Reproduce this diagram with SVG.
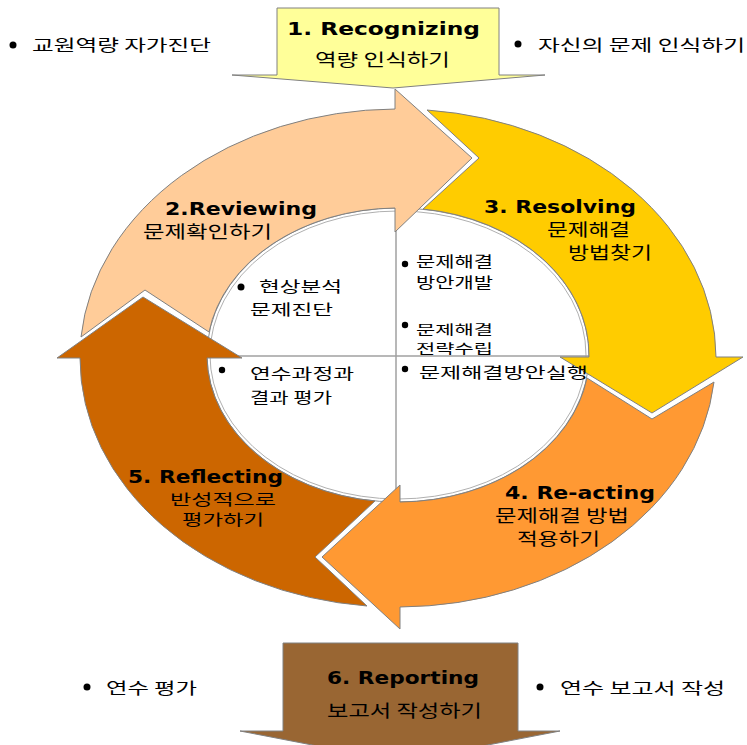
<svg xmlns="http://www.w3.org/2000/svg" width="747" height="745" viewBox="0 0 747 745">
<defs>
<style>
.arrow{stroke:#808080;stroke-width:1;stroke-linejoin:miter}
.en{font-family:"DejaVu Sans",Verdana,sans-serif;font-weight:bold;font-size:17px;fill:#000}
.ko{font-family:"Noto Sans CJK KR","Noto Sans",sans-serif;font-size:17px;fill:#000}
.ks{font-family:"Noto Sans CJK KR","Noto Sans",sans-serif;font-size:15px;fill:#000}
.ki{font-family:"Noto Sans CJK KR","Noto Sans",sans-serif;font-size:15px;fill:#000}
.kt{font-family:"Noto Sans CJK KR","Noto Sans",sans-serif;font-size:13px;fill:#000}
.kc{font-family:"Noto Sans CJK KR","Noto Sans",sans-serif;font-size:16px;fill:#000}
.grid{stroke:#a0a0a0;stroke-width:1.5;fill:none}
</style>
</defs>
<rect width="747" height="745" fill="#ffffff"/>

<g id="center">
<ellipse cx="398" cy="355" rx="191" ry="147" fill="#ffffff" stroke="#909090" stroke-width="1"/>
<ellipse cx="398" cy="355" rx="188" ry="144" fill="none" stroke="#b0b0b0" stroke-width="1"/>
<line class="grid" x1="396" y1="208" x2="396" y2="502"/>
<line class="grid" x1="207" y1="356" x2="590" y2="356"/>
</g>

<g id="step2">
<path class="arrow" fill="#FFCC99" d="M 81,337 A 318 249 0 0 1 395,109 L 395,89 L 472,158 L 395,232 L 395,208 A 191 147 0 0 0 209,332 L 145,290 Z"/>
<text class="en" x="165" y="215" textLength="152" lengthAdjust="spacingAndGlyphs">2.Reviewing</text>
<text class="ko" x="143" y="238" textLength="129" lengthAdjust="spacingAndGlyphs">문제확인하기</text>
</g>

<g id="step3">
<path class="arrow" fill="#FFCC00" d="M 427,110 A 318 249 0 0 1 716,357 L 743,357 L 652,413 L 560,357 L 589,357 A 191 147 0 0 0 423,209 L 479,158 Z"/>
<text class="en" x="484" y="213" textLength="152" lengthAdjust="spacingAndGlyphs">3. Resolving</text>
<text class="ko" x="547" y="236" textLength="83" lengthAdjust="spacingAndGlyphs">문제해결</text>
<text class="ko" x="568" y="259" textLength="84" lengthAdjust="spacingAndGlyphs">방법찾기</text>
</g>

<g id="step4">
<path class="arrow" fill="#FF9933" d="M 587,378 L 652,419 L 714,382 A 318 249 0 0 1 400,607 L 400,629 L 322,557 L 400,485 L 400,502 A 191 147 0 0 0 587,378 Z"/>
<text class="en" x="505" y="499" textLength="150" lengthAdjust="spacingAndGlyphs">4. Re-acting</text>
<text class="ko" x="495" y="522" textLength="134" lengthAdjust="spacingAndGlyphs">문제해결 방법</text>
<text class="ko" x="517" y="545" textLength="83" lengthAdjust="spacingAndGlyphs">적용하기</text>
</g>

<g id="step5">
<path class="arrow" fill="#CC6600" d="M 375,501 L 315,557 L 367,606 A 318 249 0 0 1 80,358 L 57,358 L 143,297 L 242,358 L 207,358 A 191 147 0 0 0 375,501 Z"/>
<text class="en" x="128" y="483" textLength="155" lengthAdjust="spacingAndGlyphs">5. Reflecting</text>
<text class="ks" x="170" y="505" textLength="106" lengthAdjust="spacingAndGlyphs">반성적으로</text>
<text class="ks" x="182" y="525" textLength="82" lengthAdjust="spacingAndGlyphs">평가하기</text>
</g>

<g id="step1">
<path class="arrow" fill="#FFFF99" d="M 277,8 L 499,8 L 499,75 L 545,75 L 393,88 L 232,75 L 277,75 Z"/>
<text class="en" x="287" y="35" textLength="193" lengthAdjust="spacingAndGlyphs">1. Recognizing</text>
<text class="ko" x="315" y="66" textLength="135" lengthAdjust="spacingAndGlyphs">역량 인식하기</text>
</g>

<g id="step6">
<path class="arrow" fill="#996633" d="M 283,643 L 518,643 L 518,731 L 560,731 L 400,762 L 240,731 L 283,731 Z"/>
<text class="en" x="327" y="684" textLength="152" lengthAdjust="spacingAndGlyphs">6. Reporting</text>
<text class="ko" x="327" y="717" textLength="155" lengthAdjust="spacingAndGlyphs">보고서 작성하기</text>
</g>

<g id="quadrant-texts">
<circle cx="241" cy="287" r="3.5"/>
<text class="ki" x="259" y="292" textLength="83" lengthAdjust="spacingAndGlyphs">현상분석</text>
<text class="ki" x="250" y="315" textLength="83" lengthAdjust="spacingAndGlyphs">문제진단</text>
<circle cx="405" cy="264" r="3.2"/>
<text class="ki" x="416" y="267" textLength="77" lengthAdjust="spacingAndGlyphs">문제해결</text>
<text class="ki" x="416" y="288" textLength="77" lengthAdjust="spacingAndGlyphs">방안개발</text>
<circle cx="405" cy="325" r="3.2"/>
<text class="kt" x="416" y="334" textLength="77" lengthAdjust="spacingAndGlyphs">문제해결</text>
<text class="kt" x="416" y="353" textLength="77" lengthAdjust="spacingAndGlyphs">전략수립</text>
<circle cx="222" cy="370" r="3.2"/>
<text class="ki" x="250" y="379" textLength="104" lengthAdjust="spacingAndGlyphs">연수과정과</text>
<text class="ki" x="250" y="403" textLength="82" lengthAdjust="spacingAndGlyphs">결과 평가</text>
<circle cx="405" cy="369" r="3.2"/>
<text class="ki" x="419" y="378" textLength="169" lengthAdjust="spacingAndGlyphs">문제해결방안실행</text>
</g>

<g id="note-top-left">
<circle cx="13" cy="45" r="3.5"/>
<text class="kc" x="32" y="51" textLength="179" lengthAdjust="spacingAndGlyphs">교원역량 자가진단</text>
</g>
<g id="note-top-right">
<circle cx="518" cy="44" r="3.5"/>
<text class="kc" x="538" y="51" textLength="207" lengthAdjust="spacingAndGlyphs">자신의 문제 인식하기</text>
</g>
<g id="note-bottom-left">
<circle cx="87" cy="687" r="3.5"/>
<text class="kc" x="106" y="694" textLength="91" lengthAdjust="spacingAndGlyphs">연수 평가</text>
</g>
<g id="note-bottom-right">
<circle cx="540" cy="687" r="3.5"/>
<text class="kc" x="560" y="694" textLength="165" lengthAdjust="spacingAndGlyphs">연수 보고서 작성</text>
</g>
</svg>
